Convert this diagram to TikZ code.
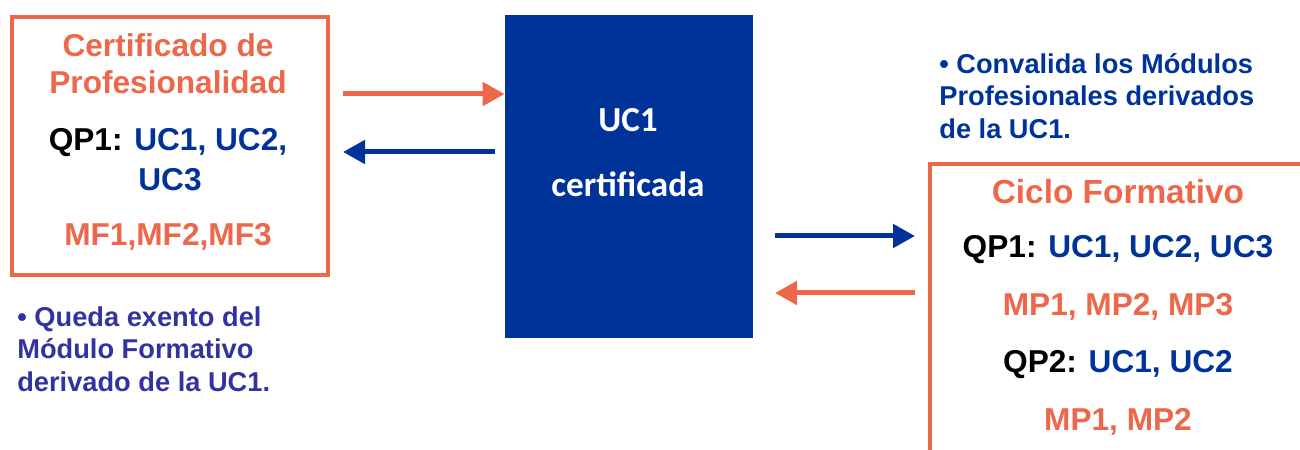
\documentclass[tikz,border=0pt]{standalone}
\usepackage{fontspec}
\setmainfont{Liberation Sans}
\newfontfamily\calibri{Carlito}
\usetikzlibrary{arrows.meta,positioning}
\definecolor{naranja}{RGB}{237,104,74}
\definecolor{azul}{RGB}{0,51,153}
\definecolor{violeta}{RGB}{51,51,160}
\tikzset{
  caja/.style={draw=naranja, line width=0.8mm, minimum width=63.2mm, minimum height=51.6mm},
  flechaN/.style={naranja, line width=1mm, -{Triangle[length=4.4mm,width=4.6mm]}},
  flechaA/.style={azul, line width=1mm, -{Triangle[length=4.4mm,width=4.6mm]}},
  nota/.style={align=left, anchor=north west, inner sep=0pt, font=\bfseries\fontsize{15.5}{18.5}\selectfont}
}

\begin{document}
\begin{tikzpicture}[x=0.2mm,y=-0.2mm,every node/.style={font=\bfseries\fontsize{18}{21}\selectfont}]
   \clip (0,0) rectangle (1300,450);
   % certificado de profesionalidad
   \node[caja] (cp) at (170,146) {};
   \node[naranja] (cpT1) at (168,45) {Certificado de};
   \node[naranja] (cpT2) at (168,82) {Profesionalidad};
   \node (cpQ) at (168,143) {QP1: \textcolor{azul}{UC1, UC2,}};
   \node[azul] (cpU) at (170,180) {UC3};
   \node[naranja] (cpM) at (168,237) {MF1,MF2,MF3};
   \node[nota, violeta] (exento) at (17,306) {\textbullet{} Queda exento del\\M\'odulo Formativo\\derivado de la UC1.};
   % unidad de competencia
   \node[fill=azul, minimum width=49.6mm, minimum height=64.6mm] (uc) at (629,176.5) {};
   \node[white, font=\calibri\bfseries\fontsize{20}{24}\selectfont] (ucT1) at (628,120) {UC1};
   \node[white, font=\calibri\bfseries\fontsize{20}{24}\selectfont] (ucT2) at (628,184) {certificada};
   % ciclo formativo
   \node[caja, anchor=north west, minimum width=80mm, minimum height=64mm] (cf) at (928,162) {};
   \node[nota, azul] (convalida) at (939,53) {\textbullet{} Convalida los M\'odulos\\Profesionales derivados\\de la UC1.};
   \node[naranja, font=\bfseries\fontsize{19}{22}\selectfont] (cfT) at (1118,192) {Ciclo Formativo};
   \node (cfQ1) at (1118,250) {QP1: \textcolor{azul}{UC1, UC2, UC3}};
   \node[naranja] (cfM1) at (1118,307) {MP1, MP2, MP3};
   \node (cfQ2) at (1118,365) {QP2: \textcolor{azul}{UC1, UC2}};
   \node[naranja] (cfM2) at (1118,422) {MP1, MP2};
   % flechas
   \coordinate (pA) at (343,94);
   \coordinate (pB) at (343,152);
   \coordinate (pC) at (495,152);
   \coordinate (pD) at (775,236);
   \coordinate (pE) at (915,236);
   \coordinate (pF) at (775,293);
   \coordinate (pG) at (915,293);
   \draw[flechaN] (pA) -- (pA -| uc.west);
   \draw[flechaA] (pC) -- (pB);
   \draw[flechaA] (pD) -- (pE);
   \draw[flechaN] (pG) -- (pF);
\end{tikzpicture}
\end{document}
